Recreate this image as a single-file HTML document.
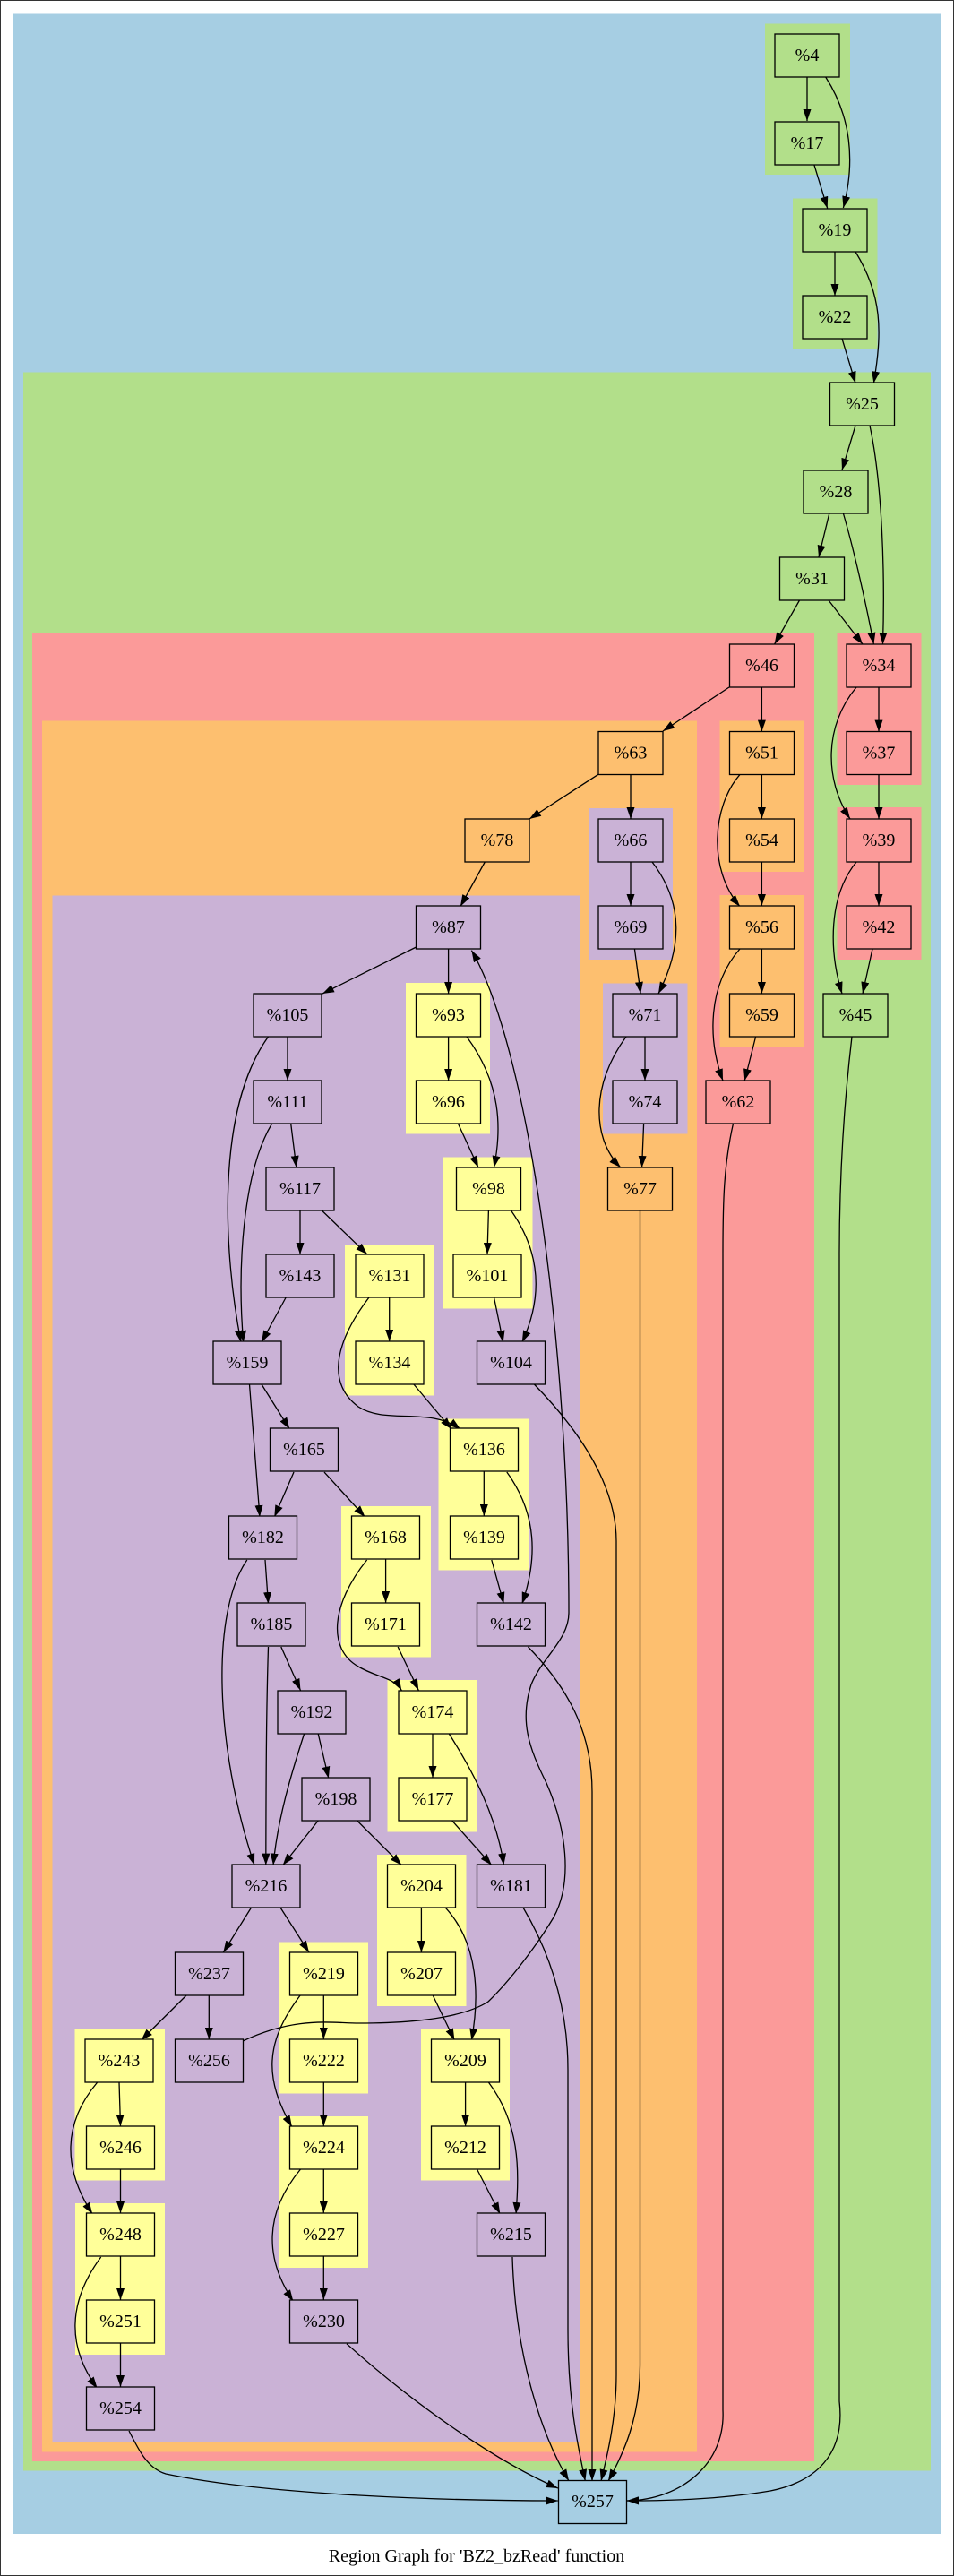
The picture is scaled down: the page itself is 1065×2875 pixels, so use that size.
<!DOCTYPE html>
<html><head><meta charset="utf-8"><style>
html,body{margin:0;padding:0;background:#fff;}
svg{display:block;}
text{font-family:"Liberation Serif",serif;font-size:20px;text-anchor:middle;dominant-baseline:central;fill:#000;}
.n{stroke:#000;stroke-width:1.3;}
.e{fill:none;stroke:#000;stroke-width:1.3;marker-end:url(#a);}
</style></head><body>
<svg width="1065" height="2875" viewBox="0 0 1065 2875" xmlns="http://www.w3.org/2000/svg">
<defs><marker id="a" markerUnits="userSpaceOnUse" markerWidth="13" markerHeight="9" refX="13" refY="4.5" orient="auto"><path d="M0,0 L13,4.5 L0,9 z" fill="#000"/></marker></defs>
<rect x="0.5" y="0.5" width="1064" height="2874" fill="#fff" stroke="#333"/>
<!-- clusters -->
<rect x="15" y="15.5" width="1035" height="2812.5" fill="#a6cee3"/>
<rect x="854" y="26.5" width="95" height="168.5" fill="#b2df8a"/>
<rect x="885" y="221.5" width="94.5" height="168" fill="#b2df8a"/>
<rect x="26" y="415.5" width="1013" height="2342" fill="#b2df8a"/>
<rect x="36" y="707" width="873" height="2040" fill="#fb9a99"/>
<rect x="934.5" y="707" width="94" height="169" fill="#fb9a99"/>
<rect x="934.5" y="901" width="94" height="170" fill="#fb9a99"/>
<rect x="47" y="804.5" width="731" height="1932" fill="#fdbf6f"/>
<rect x="803.5" y="804.5" width="94.5" height="168.5" fill="#fdbf6f"/>
<rect x="803.5" y="999" width="94.5" height="169.5" fill="#fdbf6f"/>
<rect x="58.5" y="999.5" width="589" height="1726.5" fill="#cab2d6"/>
<rect x="657" y="902" width="94" height="169" fill="#cab2d6"/>
<rect x="673" y="1097.5" width="94.5" height="168" fill="#cab2d6"/>
<rect x="453" y="1097" width="94" height="168.5" fill="#ffff99"/>
<rect x="494.5" y="1291.5" width="100" height="169" fill="#ffff99"/>
<rect x="385" y="1389" width="99.5" height="168.5" fill="#ffff99"/>
<rect x="489.5" y="1583.5" width="100.5" height="169" fill="#ffff99"/>
<rect x="381" y="1681" width="100" height="168.5" fill="#ffff99"/>
<rect x="432.5" y="1875" width="100" height="169.5" fill="#ffff99"/>
<rect x="421" y="2070" width="99.5" height="169" fill="#ffff99"/>
<rect x="312" y="2167.5" width="99" height="169" fill="#ffff99"/>
<rect x="470" y="2265" width="99" height="168.5" fill="#ffff99"/>
<rect x="83.5" y="2265" width="100.5" height="168.5" fill="#ffff99"/>
<rect x="312" y="2362" width="99" height="169" fill="#ffff99"/>
<rect x="84" y="2459" width="100" height="169" fill="#ffff99"/>
<!-- edges -->
<path class="e" d="M901,86 L901,135"/>
<path class="e" d="M921.7,86 C950,130 955,180 941.4,232"/>
<path class="e" d="M908.8,183.7 L923.7,232.5"/>
<path class="e" d="M932,281 L932,330"/>
<path class="e" d="M955,281 C985,330 985,370 975.4,427.6"/>
<path class="e" d="M940,378 L955,427.6"/>
<path class="e" d="M955,475 L940,524.6"/>
<path class="e" d="M971,475 C985,540 988,640 985.5,719"/>
<path class="e" d="M925.8,573 L914,621.6"/>
<path class="e" d="M941.4,573 C955,620 968,680 975.4,719"/>
<path class="e" d="M892.5,670 L864.6,719"/>
<path class="e" d="M925,670 L963,719"/>
<path class="e" d="M814,767 L740,816"/>
<path class="e" d="M850.4,767 L850.4,816.6"/>
<path class="e" d="M981,767 L981,816.6"/>
<path class="e" d="M956,767 C920,810 920,870 949,914"/>
<path class="e" d="M981,864.6 L981,914"/>
<path class="e" d="M667.7,864.4 L591,914"/>
<path class="e" d="M704,864.4 L704,914"/>
<path class="e" d="M850.4,864.6 L850.4,914"/>
<path class="e" d="M850.4,962 L850.4,1011"/>
<path class="e" d="M826,864.4 C795,900 790,970 826,1011.6"/>
<path class="e" d="M981,962 L981,1011"/>
<path class="e" d="M956,962 C925,1000 925,1060 940,1109"/>
<path class="e" d="M974,1059 L963,1109"/>
<path class="e" d="M541.3,962 L514,1011.6"/>
<path class="e" d="M704,962 L704,1011"/>
<path class="e" d="M728,962 C765,1010 760,1060 735,1109"/>
<path class="e" d="M708.4,1059 L715.2,1109"/>
<path class="e" d="M850.4,1059 L850.4,1109"/>
<path class="e" d="M826,1059 C790,1100 790,1160 807,1206"/>
<path class="e" d="M843.6,1157 L831.3,1206"/>
<path class="e" d="M464.6,1057 L360,1109"/>
<path class="e" d="M500.6,1059 L500.6,1109"/>
<path class="e" d="M321,1157 L321,1206"/>
<path class="e" d="M299.5,1157 C240,1240 250,1400 269,1498"/>
<path class="e" d="M500.6,1157 L500.6,1206"/>
<path class="e" d="M521,1157 C560,1210 560,1260 551.5,1303"/>
<path class="e" d="M699,1157 C660,1210 660,1270 692.8,1303"/>
<path class="e" d="M720,1157 L720,1206"/>
<path class="e" d="M718.6,1254 L716.6,1303"/>
<path class="e" d="M818.5,1254 C808,1300 807,1340 807,1400 L807,2690 C810,2750 760,2790 700,2791"/>
<path class="e" d="M951,1157 C940,1250 937,1330 937,1400 L937,2680 C944,2740 910,2770 860,2780 C800,2790 740,2791 700,2791"/>
<path class="e" d="M714.5,1351 L714.5,2640 C714.5,2700 695,2740 679,2769"/>
<path class="e" d="M511.4,1254 L534,1303"/>
<path class="e" d="M324.7,1254 L330.8,1303"/>
<path class="e" d="M303.6,1254 C270,1310 265,1420 271.7,1498"/>
<path class="e" d="M545.4,1351 L544,1400"/>
<path class="e" d="M570.5,1351 C605,1400 605,1450 582.8,1498"/>
<path class="e" d="M335,1351 L335,1400"/>
<path class="e" d="M359.3,1351 L410,1400"/>
<path class="e" d="M551.5,1448 L561.7,1498"/>
<path class="e" d="M319.2,1448 L292,1498"/>
<path class="e" d="M434.7,1448 L434.7,1497"/>
<path class="e" d="M412,1448 C380,1490 360,1540 400,1570 C430,1590 480,1570 514,1595"/>
<path class="e" d="M461.9,1545 L504,1595"/>
<path class="e" d="M596.4,1545 C650,1600 688,1660 688,1720 L688,2650 C688,2700 678,2740 671,2769"/>
<path class="e" d="M292,1545 L323.3,1595"/>
<path class="e" d="M278.5,1545 L290,1693"/>
<path class="e" d="M328,1643 L306.3,1693"/>
<path class="e" d="M362,1643 L407.5,1693"/>
<path class="e" d="M540.3,1642 L540.3,1692"/>
<path class="e" d="M565.8,1643 C600,1690 600,1740 582.8,1790"/>
<path class="e" d="M296,1741 L299.5,1790"/>
<path class="e" d="M275.8,1741 C235,1800 240,1950 284,2081.6"/>
<path class="e" d="M430.6,1740 L430.6,1789"/>
<path class="e" d="M409.6,1741 C370,1790 365,1840 400,1860 C420,1872 440,1872 448.3,1886.6"/>
<path class="e" d="M548.8,1741 L562.4,1790"/>
<path class="e" d="M313.8,1838 L335.5,1886.6"/>
<path class="e" d="M299.5,1838 C297,1920 297,2000 296.8,2081.6"/>
<path class="e" d="M444.2,1838 L467.3,1886.6"/>
<path class="e" d="M589.5,1838 C640,1890 661,1940 661,2000 L661,2769"/>
<path class="e" d="M271,2278 C330,2250 370,2258 400,2258 C470,2258 520,2250 545,2234 C570,2210 600,2170 618,2140 C640,2100 632,2040 610,1990 C590,1950 580,1920 593,1880 C605,1850 635,1830 635,1800 C635,1500 590,1170 526.4,1060.7"/>
<path class="e" d="M355.2,1935 L366.8,1984.6"/>
<path class="e" d="M339.6,1935 C325,1980 310,2030 305,2081.6"/>
<path class="e" d="M483,1934 L483,1984"/>
<path class="e" d="M501.3,1935 C530,1980 555,2030 562.4,2081.6"/>
<path class="e" d="M355.2,2032 L315.8,2081.6"/>
<path class="e" d="M398.7,2032 L448.3,2081.6"/>
<path class="e" d="M504.7,2032 L548.8,2081.6"/>
<path class="e" d="M280.5,2129 L249.3,2179"/>
<path class="e" d="M313,2129 L345,2179"/>
<path class="e" d="M470.4,2129 L470.4,2179"/>
<path class="e" d="M497.2,2129 C535,2170 535,2230 526.4,2277"/>
<path class="e" d="M584,2129 C620,2190 634,2250 634,2310 L634,2600 C634,2680 645,2730 653.4,2769"/>
<path class="e" d="M208.5,2226.5 L157.6,2277"/>
<path class="e" d="M233.3,2227 L233.3,2276"/>
<path class="e" d="M361.3,2227 L361.3,2276"/>
<path class="e" d="M335.5,2226.5 C295,2280 295,2320 326,2374"/>
<path class="e" d="M483,2226.5 L507.4,2277"/>
<path class="e" d="M133,2324 L134.5,2373"/>
<path class="e" d="M108.7,2324 C70,2370 70,2420 103.2,2471"/>
<path class="e" d="M361.3,2324 L361.3,2373"/>
<path class="e" d="M519.6,2324 L519.6,2373"/>
<path class="e" d="M545.4,2324 C580,2370 580,2420 576,2471"/>
<path class="e" d="M532.5,2421 L558.3,2471"/>
<path class="e" d="M134.5,2421 L134.5,2470"/>
<path class="e" d="M361.3,2421 L361.3,2470"/>
<path class="e" d="M335.5,2421 C295,2470 295,2520 327.4,2568.5"/>
<path class="e" d="M572,2519 C575,2620 600,2710 635,2768.8"/>
<path class="e" d="M134.5,2518 L134.5,2567"/>
<path class="e" d="M112.7,2519 C75,2570 75,2620 108.7,2665.6"/>
<path class="e" d="M361.3,2518 L361.3,2567"/>
<path class="e" d="M134.5,2615 L134.5,2664"/>
<path class="e" d="M387,2615.8 C470,2690 560,2750 622.8,2777"/>
<path class="e" d="M144,2713 C155,2735 165,2755 185,2761 C300,2785 500,2791 622.8,2791"/>
<!-- nodes -->
<g class="n" fill="#b2df8a">
<rect x="865" y="38" width="72" height="48"/><rect x="865" y="136" width="72" height="48"/>
<rect x="896" y="233" width="72" height="48"/><rect x="896" y="330" width="72" height="48"/>
<rect x="926.5" y="427" width="72" height="48"/><rect x="897" y="525" width="72" height="48"/>
<rect x="870.5" y="622" width="72" height="48"/><rect x="919" y="1109" width="72" height="48"/>
</g>
<g class="n" fill="#fb9a99">
<rect x="814.5" y="719" width="72" height="48"/><rect x="945" y="719" width="72" height="48"/>
<rect x="945" y="816.5" width="72" height="48"/><rect x="945" y="914" width="72" height="48"/>
<rect x="945" y="1011" width="72" height="48"/><rect x="788" y="1206" width="72" height="48"/>
</g>
<g class="n" fill="#fdbf6f">
<rect x="668" y="816.5" width="72" height="48"/><rect x="814.5" y="816.5" width="72" height="48"/>
<rect x="519" y="914" width="72" height="48"/><rect x="814.5" y="914" width="72" height="48"/>
<rect x="814.5" y="1011" width="72" height="48"/><rect x="814.5" y="1109" width="72" height="48"/>
<rect x="678.5" y="1303" width="72" height="48"/>
</g>
<g class="n" fill="#cab2d6">
<rect x="668" y="914" width="72" height="48"/><rect x="668" y="1011" width="72" height="48"/>
<rect x="464.5" y="1011" width="72" height="48"/>
<rect x="684" y="1109" width="72" height="48"/><rect x="684" y="1206" width="72" height="48"/>
<rect x="283" y="1109" width="76" height="48"/><rect x="283" y="1206" width="76" height="48"/>
<rect x="297" y="1303" width="76" height="48"/><rect x="297" y="1400" width="76" height="48"/>
<rect x="238" y="1497" width="76" height="48"/><rect x="532.5" y="1497" width="76" height="48"/>
<rect x="301.5" y="1594" width="76" height="48"/><rect x="255.5" y="1692" width="76" height="48"/>
<rect x="265" y="1789" width="76" height="48"/><rect x="532.5" y="1789" width="76" height="48"/>
<rect x="310" y="1887" width="76" height="48"/><rect x="337" y="1984" width="76" height="48"/>
<rect x="259" y="2081" width="76" height="48"/><rect x="532.5" y="2081" width="76" height="48"/>
<rect x="195.5" y="2179" width="76" height="48"/><rect x="195.5" y="2276" width="76" height="48"/>
<rect x="532.5" y="2470" width="76" height="48"/><rect x="323.5" y="2567" width="76" height="48"/>
<rect x="96.5" y="2664" width="76" height="48"/>
</g>
<g class="n" fill="#ffff99">
<rect x="464.5" y="1109" width="72" height="48"/><rect x="464.5" y="1206" width="72" height="48"/>
<rect x="509.5" y="1303" width="72" height="48"/><rect x="506" y="1400" width="76" height="48"/>
<rect x="397" y="1400" width="76" height="48"/><rect x="397" y="1497" width="76" height="48"/>
<rect x="502.5" y="1594" width="76" height="48"/><rect x="502.5" y="1692" width="76" height="48"/>
<rect x="392.5" y="1692" width="76" height="48"/><rect x="392.5" y="1789" width="76" height="48"/>
<rect x="445" y="1887" width="76" height="48"/><rect x="445" y="1984" width="76" height="48"/>
<rect x="432.5" y="2081" width="76" height="48"/><rect x="432.5" y="2179" width="76" height="48"/>
<rect x="323.5" y="2179" width="76" height="48"/><rect x="323.5" y="2276" width="76" height="48"/>
<rect x="481.5" y="2276" width="76" height="48"/><rect x="481.5" y="2373" width="76" height="48"/>
<rect x="95" y="2276" width="76" height="48"/><rect x="96.5" y="2373" width="76" height="48"/>
<rect x="323.5" y="2373" width="76" height="48"/><rect x="323.5" y="2470" width="76" height="48"/>
<rect x="96.5" y="2470" width="76" height="48"/><rect x="96.5" y="2567" width="76" height="48"/>
</g>
<rect class="n" fill="#a6cee3" x="623.5" y="2768.5" width="76" height="48"/>
<!-- labels -->
<text x="901" y="62">%4</text><text x="901" y="160">%17</text>
<text x="932" y="257">%19</text><text x="932" y="354">%22</text>
<text x="962.5" y="451">%25</text><text x="933" y="549">%28</text>
<text x="906.5" y="646">%31</text><text x="955" y="1133">%45</text>
<text x="850.5" y="743">%46</text><text x="981" y="743">%34</text>
<text x="981" y="840.5">%37</text><text x="981" y="938">%39</text>
<text x="981" y="1035">%42</text><text x="824" y="1230">%62</text>
<text x="704" y="840.5">%63</text><text x="850.5" y="840.5">%51</text>
<text x="555" y="938">%78</text><text x="850.5" y="938">%54</text>
<text x="850.5" y="1035">%56</text><text x="850.5" y="1133">%59</text>
<text x="714.5" y="1327">%77</text>
<text x="704" y="938">%66</text><text x="704" y="1035">%69</text>
<text x="500.5" y="1035">%87</text>
<text x="720" y="1133">%71</text><text x="720" y="1230">%74</text>
<text x="321" y="1133">%105</text><text x="321" y="1230">%111</text>
<text x="335" y="1327">%117</text><text x="335" y="1424">%143</text>
<text x="276" y="1521">%159</text><text x="570.5" y="1521">%104</text>
<text x="339.5" y="1618">%165</text><text x="293.5" y="1716">%182</text>
<text x="303" y="1813">%185</text><text x="570.5" y="1813">%142</text>
<text x="348" y="1911">%192</text><text x="375" y="2008">%198</text>
<text x="297" y="2105">%216</text><text x="570.5" y="2105">%181</text>
<text x="233.5" y="2203">%237</text><text x="233.5" y="2300">%256</text>
<text x="570.5" y="2494">%215</text><text x="361.5" y="2591">%230</text>
<text x="134.5" y="2688">%254</text>
<text x="500.5" y="1133">%93</text><text x="500.5" y="1230">%96</text>
<text x="545.5" y="1327">%98</text><text x="544" y="1424">%101</text>
<text x="435" y="1424">%131</text><text x="435" y="1521">%134</text>
<text x="540.5" y="1618">%136</text><text x="540.5" y="1716">%139</text>
<text x="430.5" y="1716">%168</text><text x="430.5" y="1813">%171</text>
<text x="483" y="1911">%174</text><text x="483" y="2008">%177</text>
<text x="470.5" y="2105">%204</text><text x="470.5" y="2203">%207</text>
<text x="361.5" y="2203">%219</text><text x="361.5" y="2300">%222</text>
<text x="519.5" y="2300">%209</text><text x="519.5" y="2397">%212</text>
<text x="133" y="2300">%243</text><text x="134.5" y="2397">%246</text>
<text x="361.5" y="2397">%224</text><text x="361.5" y="2494">%227</text>
<text x="134.5" y="2494">%248</text><text x="134.5" y="2591">%251</text>
<text x="661.5" y="2792">%257</text>
<text x="532" y="2853">Region Graph for 'BZ2_bzRead' function</text>
</svg>
</body></html>
